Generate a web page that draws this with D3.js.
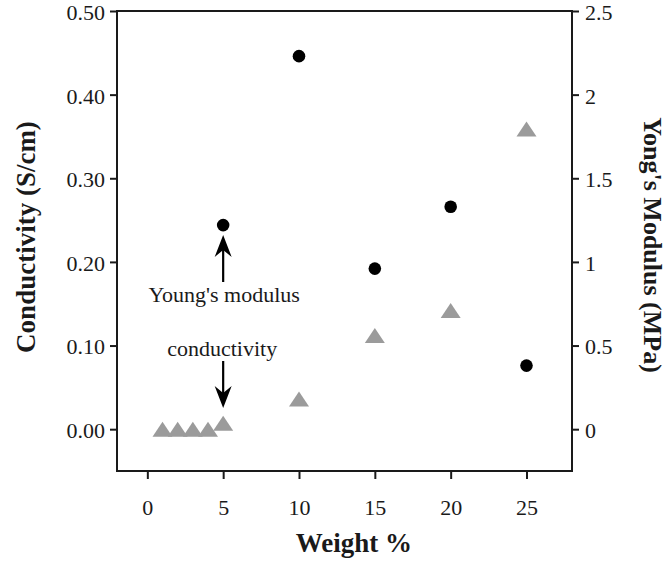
<!DOCTYPE html>
<html>
<head>
<meta charset="utf-8">
<script src="https://cdn.jsdelivr.net/npm/d3@7"></script>
<style>
  html, body { margin: 0; padding: 0; background: #fff; }
  svg { display: block; font-family: "Liberation Serif", "Times New Roman", serif; }
</style>
</head>
<body>
<svg id="chart" width="668" height="562"></svg>
<script>
// ---- data ----
const weightConductivity = [1, 2, 3, 4, 5, 10, 15, 20, 25];
const conductivity = [0.0, 0.0, 0.0, 0.0, 0.007, 0.036, 0.112, 0.142, 0.359];
const weightModulus = [5, 10, 15, 20, 25];
const youngsModulus = [1.22, 2.23, 0.96, 1.33, 0.38];
const xTicks = [0, 5, 10, 15, 20, 25];
const leftTicks = [0.0, 0.1, 0.2, 0.3, 0.4, 0.5];
const leftTickLabels = ["0.00", "0.10", "0.20", "0.30", "0.40", "0.50"];
const rightTicks = [0, 0.5, 1, 1.5, 2, 2.5];
const rightTickLabels = ["0", "0.5", "1", "1.5", "2", "2.5"];

const svg = d3.select("#chart");
const L = 117, R = 572, T = 11, B = 471;
const ink = "#1a1a1a";

const x = d3.scaleLinear().domain([-2, 28]).range([L, R]);
const yL = d3.scaleLinear().domain([-0.05, 0.5]).range([B, T]);
const yR = d3.scaleLinear().domain([-0.25, 2.5]).range([B, T]);

// frame
svg.append("rect").attr("x", L).attr("y", T).attr("width", R - L).attr("height", B - T)
  .attr("fill", "none").attr("stroke", ink).attr("stroke-width", 2);

function styleAxis(g) {
  g.select(".domain").remove();
  g.selectAll(".tick line").attr("stroke", ink).attr("stroke-width", 2);
  g.selectAll(".tick text").attr("fill", ink).attr("font-size", 22)
    .attr("font-family", "Liberation Serif, Times New Roman, serif");
}

// x axis
const gx = svg.append("g").attr("transform", `translate(0,${B + 1})`)
  .call(d3.axisBottom(x).tickValues(xTicks).tickSize(7).tickSizeOuter(0));
styleAxis(gx);
gx.selectAll(".tick text").attr("y", 43).attr("dy", 0);

// left axis
const gl = svg.append("g").attr("transform", `translate(${L},0)`)
  .call(d3.axisLeft(yL).tickValues(leftTicks).tickSize(7).tickPadding(5)
    .tickFormat((d, i) => leftTickLabels[i]));
styleAxis(gl);
gl.selectAll(".tick text").attr("dy", "0.38em");

// right axis
const gr = svg.append("g").attr("transform", `translate(${R},0)`)
  .call(d3.axisRight(yR).tickValues(rightTicks).tickSize(7).tickPadding(6)
    .tickFormat((d, i) => rightTickLabels[i]));
styleAxis(gr);
gr.selectAll(".tick text").attr("dy", "0.38em");

// axis titles
svg.append("text").attr("x", 354).attr("y", 552).attr("text-anchor", "middle")
  .attr("font-size", 27).attr("font-weight", "bold").attr("fill", ink).text("Weight %");
svg.append("text").attr("transform", "translate(35,237) rotate(-90)").attr("text-anchor", "middle")
  .attr("font-size", 27).attr("font-weight", "bold").attr("fill", ink).text("Conductivity (S/cm)");
svg.append("text").attr("transform", "translate(644,245) rotate(90)").attr("text-anchor", "middle")
  .attr("font-size", 26).attr("font-weight", "bold").attr("fill", ink).text("Yong's Modulus (MPa)");

// triangles (conductivity, left axis)
const triW = 20, triH = 15;
const triPath = `M0,${-triH / 2}L${triW / 2},${triH / 2}L${-triW / 2},${triH / 2}Z`;
svg.append("g").selectAll("path").data(conductivity).join("path")
  .attr("d", triPath)
  .attr("transform", (d, i) => `translate(${x(weightConductivity[i])},${yL(d)})`)
  .attr("fill", "#9b9b9b");

// circles (Young's modulus, right axis)
svg.append("g").selectAll("circle").data(youngsModulus).join("circle")
  .attr("cx", (d, i) => x(weightModulus[i]))
  .attr("cy", d => yR(d))
  .attr("r", 6.3)
  .attr("fill", "#000");

// annotations
const ax = x(5);
function arrow(x0, yFrom, yTip) {
  const dir = yTip < yFrom ? -1 : 1; // -1 up
  const len = 22, half = 8.5, notch = 15;
  svg.append("line").attr("x1", x0).attr("x2", x0).attr("y1", yFrom).attr("y2", yTip - dir * notch)
    .attr("stroke", "#000").attr("stroke-width", 2.2);
  svg.append("path")
    .attr("d", `M${x0},${yTip}L${x0 + half},${yTip - dir * len}L${x0},${yTip - dir * notch}L${x0 - half},${yTip - dir * len}Z`)
    .attr("fill", "#000");
}
arrow(ax, 282, 235);
arrow(ax, 361, 408);

svg.append("text").attr("x", ax + 1).attr("y", 302).attr("text-anchor", "middle")
  .attr("font-size", 22).attr("fill", ink).text("Young's modulus");
svg.append("text").attr("x", ax - 1).attr("y", 356).attr("text-anchor", "middle")
  .attr("font-size", 22).attr("fill", ink).text("conductivity");
</script>
</body>
</html>
